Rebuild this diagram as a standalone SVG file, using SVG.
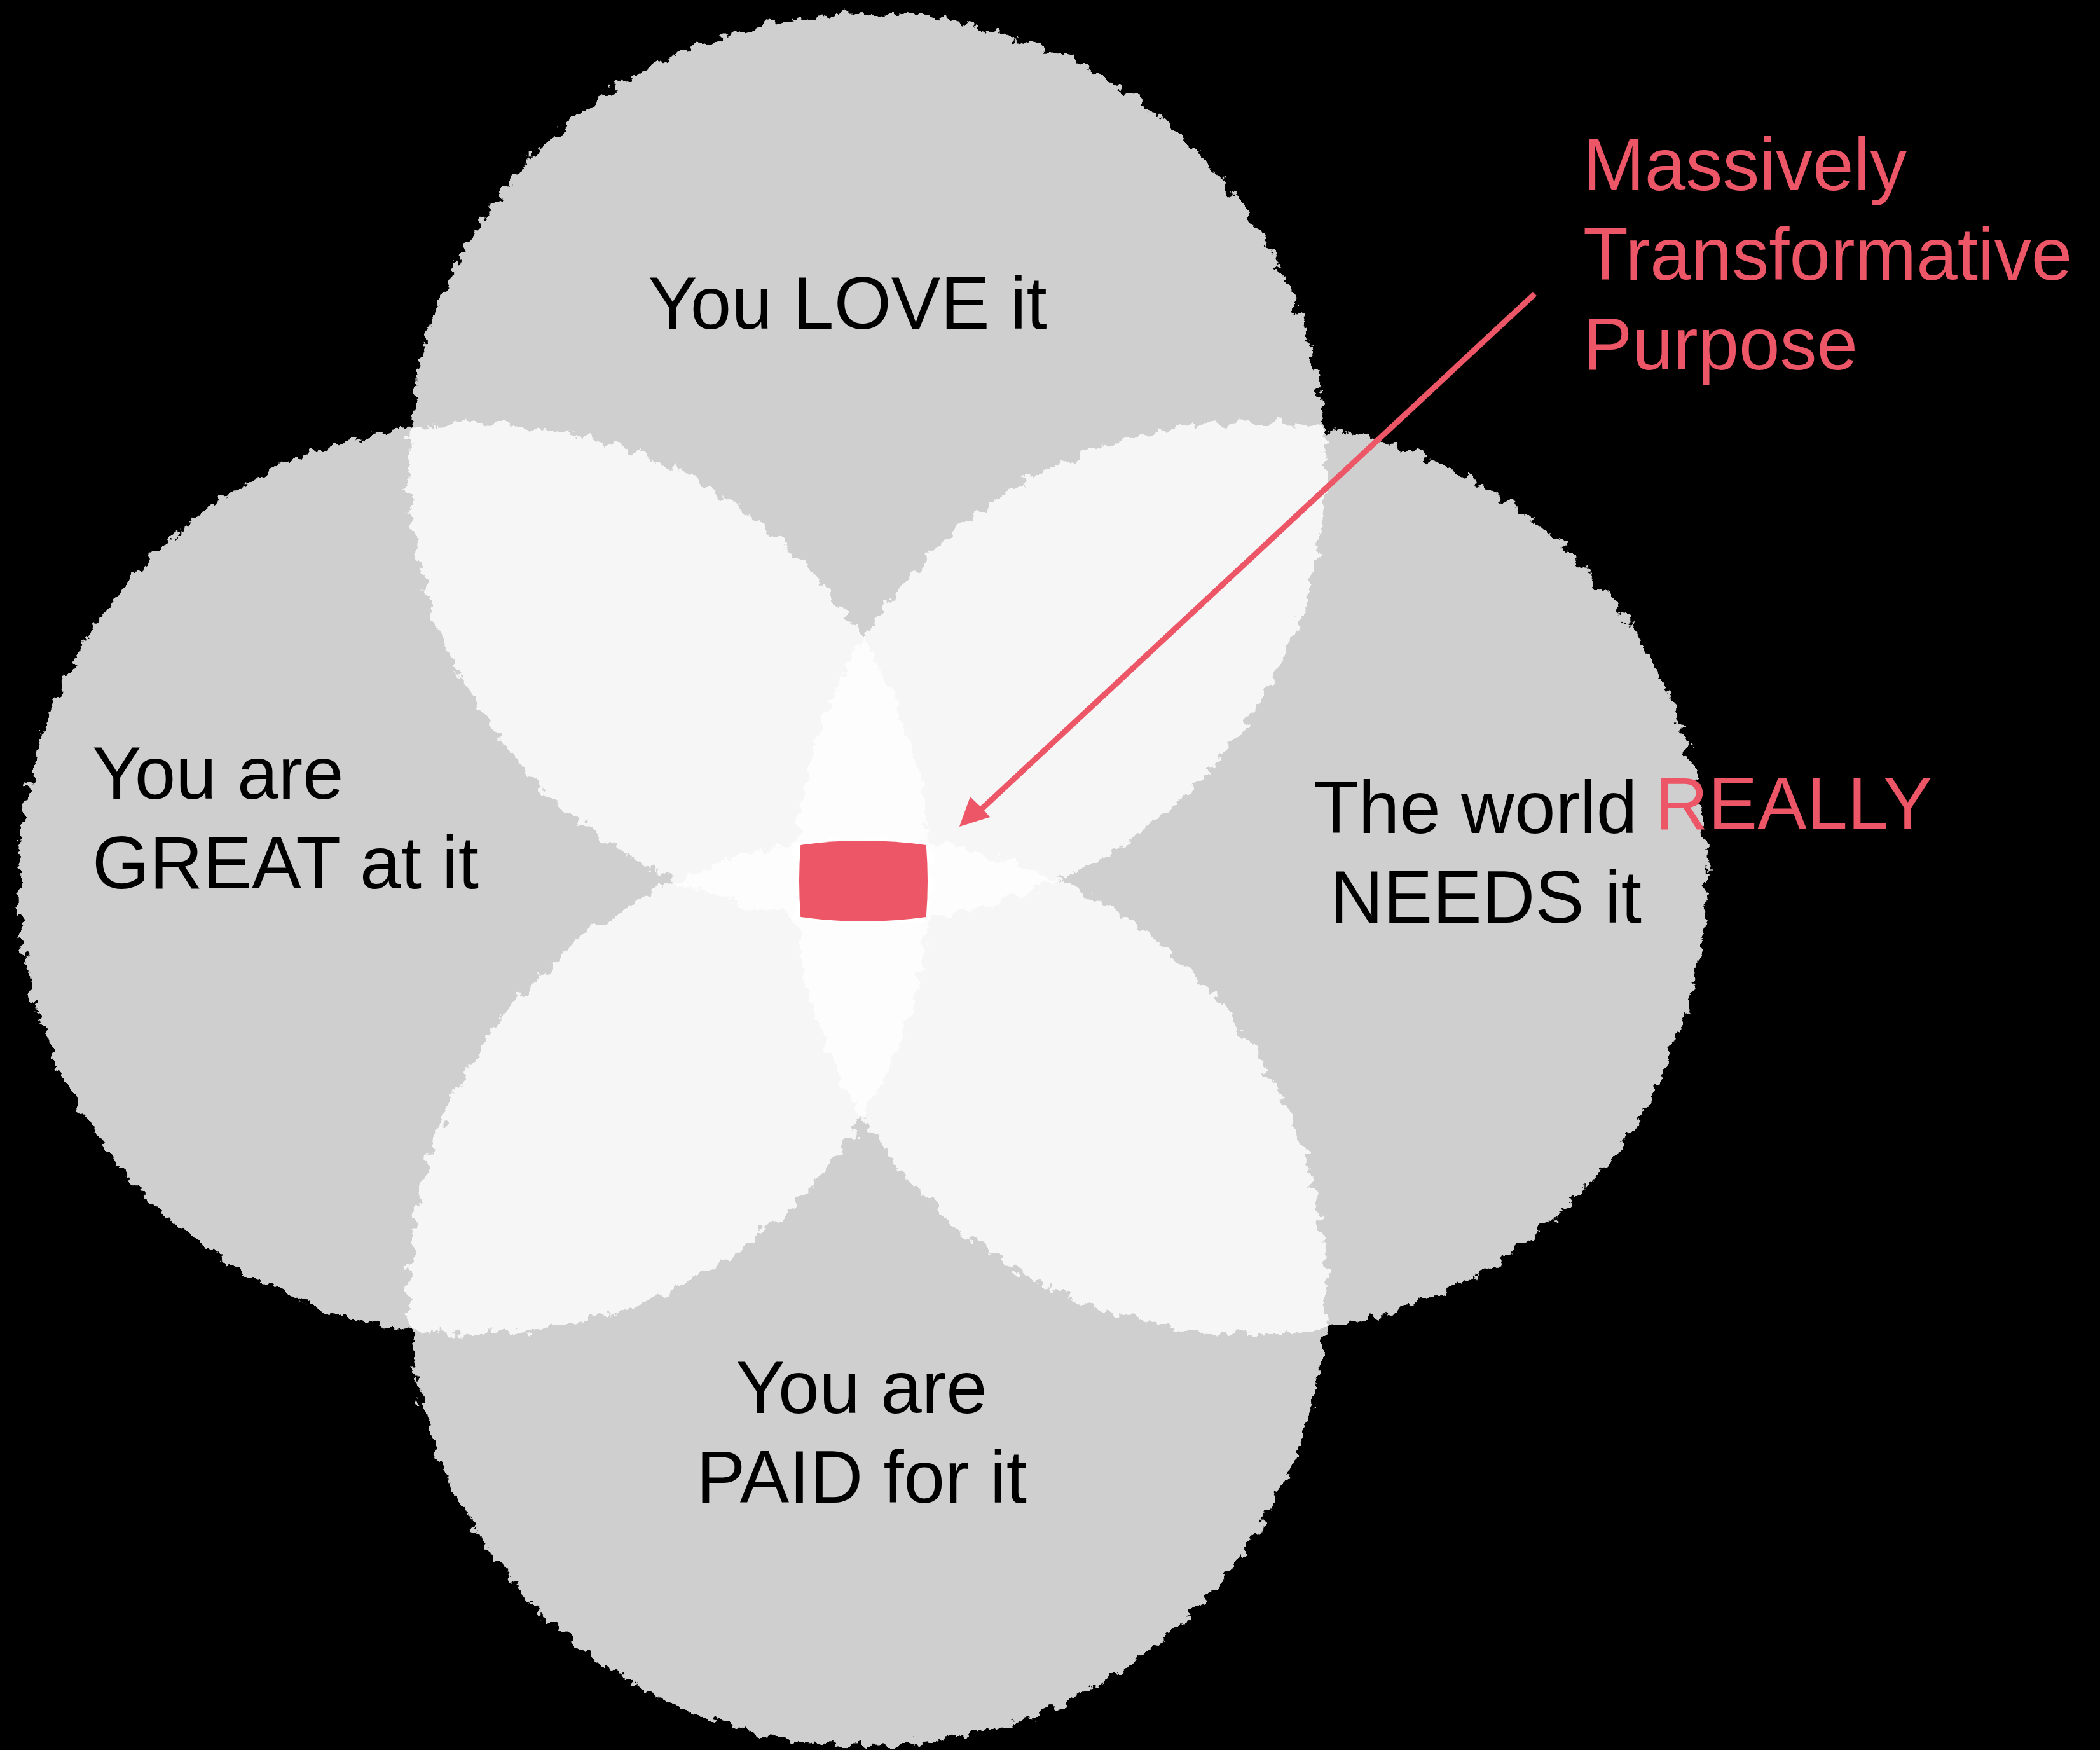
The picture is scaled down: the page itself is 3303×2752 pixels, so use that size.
<svg xmlns="http://www.w3.org/2000/svg" width="3303" height="2752" viewBox="0 0 3303 2752">
  <defs>
    <filter id="rough" x="-5%" y="-5%" width="110%" height="110%" filterUnits="objectBoundingBox">
      <feTurbulence type="fractalNoise" baseFrequency="0.05" numOctaves="4" seed="7" result="noise"/>
      <feDisplacementMap in="SourceGraphic" in2="noise" scale="30" xChannelSelector="R" yChannelSelector="G"/>
    </filter>
    <style>
      .disc { fill: #ffffff; fill-opacity: 0.81; filter: url(#rough); }
      .lbl { font-family: "Liberation Sans", Arial, Helvetica, sans-serif; font-size: 116px; fill: #000000; }
      .red { fill: #ED5666; }
      .mid { text-anchor: middle; }
    </style>
  </defs>
  <rect x="0" y="0" width="3303" height="2752" fill="#000000"/>

  <g id="node-love">
    <ellipse class="disc" cx="1364" cy="735" rx="722" ry="714"/>
    <text class="lbl mid" x="1333" y="517">You LOVE it</text>
  </g>

  <g id="node-great">
    <circle class="disc" cx="746" cy="1382" r="717"/>
    <text class="lbl" x="145" y="1256">You are</text>
    <text class="lbl" x="145" y="1397">GREAT at it</text>
  </g>

  <g id="node-needs">
    <circle class="disc" cx="1967" cy="1381" r="717"/>
    <text class="lbl" x="2066" y="1310">The world</text>
    <text class="lbl red" x="2603" y="1304">REALLY</text>
    <text class="lbl mid" x="2337" y="1451">NEEDS it</text>
  </g>

  <g id="node-paid">
    <ellipse class="disc" cx="1364" cy="2033" rx="722" ry="713"/>
    <text class="lbl mid" x="1355" y="2222">You are</text>
    <text class="lbl mid" x="1355" y="2363">PAID for it</text>
  </g>

  <g id="node-mtp-center">
    <path class="red" d="M 1259.25 1328.9 A 714 714 0 0 1 1456.75 1328.9 A 714 714 0 0 1 1456.75 1442.1 A 714 714 0 0 1 1259.25 1442.1 A 714 714 0 0 1 1259.25 1328.9 Z"/>
  </g>

  <g id="node-mtp-label">
    <text class="lbl red" x="2490" y="299">Massively</text>
    <text class="lbl red" x="2490" y="440">Transformative</text>
    <text class="lbl red" x="2490" y="581">Purpose</text>
  </g>

  <g id="connectors">
    <line x1="2414" y1="462" x2="1543" y2="1273" stroke="#ED5666" stroke-width="9"/>
    <polygon class="red" points="1509,1300 1526,1253 1546,1272 1557,1285"/>
  </g>
</svg>
